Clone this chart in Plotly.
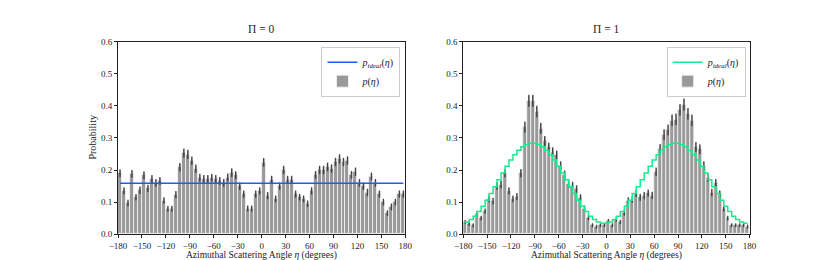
import plotly.graph_objects as go

# bin centers (degrees), 5-degree bins
eta = [-177.5 + 5 * i for i in range(72)]

tick_vals = [-180, -150, -120, -90, -60, -30, 0, 30, 60, 90, 120, 150, 180]
tick_text = ["\u2212180", "\u2212150", "\u2212120", "\u221290", "\u221260", "\u221230",
             "0", "30", "60", "90", "120", "150", "180"]
y_ticks = [0.0, 0.1, 0.2, 0.3, 0.4, 0.5, 0.6]
y_text = ["0.0", "0.1", "0.2", "0.3", "0.4", "0.5", "0.6"]

# Pi = 0 panel
p0 = [0.190, 0.135, 0.097, 0.188, 0.115, 0.137, 0.184, 0.143, 0.172, 0.160,
      0.166, 0.105, 0.079, 0.079, 0.123, 0.209, 0.253, 0.249, 0.229, 0.204,
      0.176, 0.172, 0.172, 0.176, 0.172, 0.166, 0.160, 0.177, 0.192, 0.184,
      0.150, 0.125, 0.080, 0.080, 0.125, 0.135, 0.224, 0.120, 0.170, 0.110,
      0.150, 0.200, 0.170, 0.170, 0.125, 0.115, 0.110, 0.095, 0.135, 0.185,
      0.200, 0.200, 0.210, 0.205, 0.225, 0.235, 0.225, 0.230, 0.185, 0.195,
      0.160, 0.150, 0.130, 0.180, 0.160, 0.125, 0.100, 0.065, 0.085, 0.100,
      0.125, 0.125]
e0 = [0.010, 0.009, 0.008, 0.010, 0.008, 0.009, 0.010, 0.009, 0.010, 0.010,
      0.010, 0.008, 0.007, 0.007, 0.009, 0.011, 0.012, 0.012, 0.011, 0.011,
      0.010, 0.010, 0.010, 0.010, 0.010, 0.010, 0.010, 0.010, 0.011, 0.010,
      0.010, 0.009, 0.007, 0.007, 0.009, 0.009, 0.011, 0.009, 0.010, 0.008,
      0.009, 0.011, 0.010, 0.010, 0.009, 0.008, 0.008, 0.008, 0.009, 0.010,
      0.011, 0.011, 0.011, 0.011, 0.011, 0.012, 0.011, 0.011, 0.010, 0.011,
      0.010, 0.010, 0.009, 0.010, 0.010, 0.009, 0.008, 0.007, 0.008, 0.008,
      0.009, 0.009]
ideal0 = [0.159] * 72

# Pi = 1 panel
p1 = [0.038, 0.032, 0.028, 0.063, 0.050, 0.072, 0.110, 0.103, 0.150, 0.155,
      0.190, 0.135, 0.110, 0.117, 0.190, 0.334, 0.416, 0.416, 0.382, 0.330,
      0.290, 0.271, 0.256, 0.247, 0.213, 0.185, 0.157, 0.151, 0.140, 0.113,
      0.080, 0.052, 0.028, 0.023, 0.028, 0.028, 0.040, 0.028, 0.046, 0.038,
      0.066, 0.105, 0.108, 0.127, 0.115, 0.120, 0.128, 0.121, 0.195, 0.265,
      0.310, 0.325, 0.355, 0.358, 0.388, 0.404, 0.375, 0.355, 0.272, 0.265,
      0.213, 0.177, 0.130, 0.160, 0.125, 0.080, 0.050, 0.028, 0.028, 0.028,
      0.028, 0.024]
e1 = [0.004, 0.004, 0.004, 0.006, 0.005, 0.006, 0.008, 0.008, 0.010, 0.010,
      0.011, 0.009, 0.008, 0.009, 0.011, 0.015, 0.017, 0.017, 0.016, 0.015,
      0.014, 0.013, 0.013, 0.012, 0.012, 0.011, 0.010, 0.010, 0.010, 0.009,
      0.007, 0.006, 0.004, 0.004, 0.004, 0.004, 0.005, 0.004, 0.005, 0.005,
      0.006, 0.008, 0.008, 0.009, 0.009, 0.009, 0.009, 0.009, 0.011, 0.014,
      0.015, 0.015, 0.016, 0.016, 0.016, 0.017, 0.016, 0.016, 0.013, 0.013,
      0.012, 0.011, 0.009, 0.010, 0.009, 0.007, 0.005, 0.004, 0.004, 0.004,
      0.004, 0.004]
ideal1 = [0.034, 0.038, 0.046, 0.056, 0.071, 0.087, 0.106, 0.127, 0.148, 0.170,
          0.191, 0.212, 0.231, 0.248, 0.262, 0.273, 0.280, 0.284, 0.284, 0.280,
          0.273, 0.262, 0.248, 0.231, 0.212, 0.191, 0.170, 0.148, 0.127, 0.106,
          0.087, 0.071, 0.056, 0.046, 0.038, 0.034, 0.034, 0.038, 0.046, 0.056,
          0.071, 0.087, 0.106, 0.127, 0.148, 0.170, 0.191, 0.212, 0.231, 0.248,
          0.262, 0.273, 0.280, 0.284, 0.284, 0.280, 0.273, 0.262, 0.248, 0.231,
          0.212, 0.191, 0.170, 0.148, 0.127, 0.106, 0.087, 0.071, 0.056, 0.046,
          0.038, 0.034]

titles = ["\u03a0 = 0", "\u03a0 = 1"]
ideal_colors = ["#1f5cf5", "#14eb8c"]

FONT = "Liberation Serif"
W, H = 830, 260
BAR = "#999999"
ERR = "#444444"

fig = go.Figure()

panels = [(p0, e0, ideal0, "x", "y", "legend"), (p1, e1, ideal1, "x2", "y2", "legend2")]
for i, (p, e, ideal, xa, ya, lg) in enumerate(panels):
    fig.add_trace(go.Bar(
        x=eta, y=p, width=5.0, xaxis=xa, yaxis=ya,
        marker=dict(color=BAR, line=dict(width=0.9, color="#f2f2f2")),
        error_y=dict(type="data", array=e, color=ERR, thickness=1.5, width=0.6),
        name="<i>p</i>(<i>\u03b7</i>)", legend=lg, legendrank=2,
    ))
    fig.add_trace(go.Scatter(
        x=eta, y=ideal, xaxis=xa, yaxis=ya, mode="lines",
        line=dict(color=ideal_colors[i], width=1.5, shape="vh"),
        name="<i>p</i><sub><i>ideal</i></sub>(<i>\u03b7</i>)", legend=lg, legendrank=1,
    ))

def px_x(v):
    return v / W

def px_y(v):
    return 1 - v / H

axis_common = dict(showgrid=False, zeroline=False, showline=True, linecolor="#222",
                   linewidth=1, mirror=True, ticks="outside", ticklen=3,
                   tickwidth=1, tickcolor="#222",
                   tickfont=dict(family=FONT, size=9, color="#222"))

x_domains = [[px_x(103), px_x(396)], [px_x(455), px_x(747)]]
y_domain = [px_y(230), px_y(30)]

fig.update_layout(
    width=W, height=H, margin=dict(l=0, r=0, t=0, b=0),
    paper_bgcolor="white", plot_bgcolor="white",
    bargap=0, showlegend=True,
    xaxis=dict(domain=x_domains[0], range=[-180, 180], tickvals=tick_vals,
               ticktext=tick_text, anchor="y", **axis_common),
    yaxis=dict(domain=y_domain, range=[0, 0.6], tickvals=y_ticks, ticktext=y_text,
               anchor="x", **axis_common),
    xaxis2=dict(domain=x_domains[1], range=[-180, 180], tickvals=tick_vals,
                ticktext=tick_text, anchor="y2", **axis_common),
    yaxis2=dict(domain=y_domain, range=[0, 0.6], tickvals=y_ticks, ticktext=y_text,
                anchor="x2", **axis_common),
)

leg_common = dict(bgcolor="rgba(255,255,255,0.9)", bordercolor="#cccccc", borderwidth=1,
                  font=dict(family=FONT, size=10, color="#222"), xanchor="right",
                  yanchor="top", itemwidth=30, tracegroupgap=0)
fig.update_layout(
    legend=dict(x=px_x(391), y=px_y(35), **leg_common),
    legend2=dict(x=px_x(743), y=px_y(35), **leg_common),
)

annotations = []
for i, t in enumerate(titles):
    cx = (x_domains[i][0] + x_domains[i][1]) / 2
    annotations.append(dict(text=t, x=cx, y=px_y(17), xref="paper", yref="paper",
                            showarrow=False, font=dict(family=FONT, size=11.5, color="#222"),
                            xanchor="center", yanchor="middle"))
    annotations.append(dict(text="Azimuthal Scattering Angle <i>\u03b7</i> (degrees)",
                            x=cx, y=px_y(252), xref="paper", yref="paper",
                            showarrow=False, font=dict(family=FONT, size=9.5, color="#222"),
                            xanchor="center", yanchor="middle"))
annotations.append(dict(text="Probability", x=px_x(76), y=(y_domain[0] + y_domain[1]) / 2,
                        xref="paper", yref="paper", showarrow=False, textangle=-90,
                        font=dict(family=FONT, size=10, color="#222"),
                        xanchor="center", yanchor="middle"))
fig.update_layout(annotations=annotations)

fig.write_html("out.html")
